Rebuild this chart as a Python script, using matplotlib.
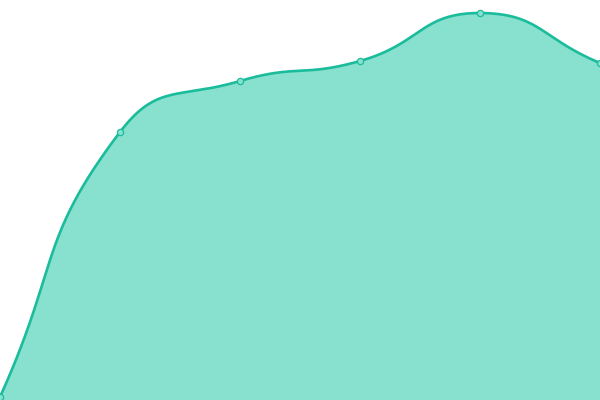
import numpy as np
import matplotlib
matplotlib.use("Agg")
import matplotlib.pyplot as plt

categories = ["A", "B", "C", "D", "E", "F"]
values = [3, 268, 319, 339, 387, 337]

line_color = "#1abc9c"
fill_color = "#88e0ce"

X_PX = 120.0  # pixels per category step (used only for smoothing geometry)
Y_PX = 1.0    # pixels per value unit


def smooth_curve(xs, ys, smooth=0.5, n=60):
    pts = np.column_stack([np.asarray(xs, float) * X_PX, np.asarray(ys, float) * Y_PX])
    m = len(pts)
    lo, hi = pts.min(axis=0), pts.max(axis=0)
    cps = []
    for i in range(m):
        p = pts[i]
        prev = pts[i - 1] if i > 0 else p
        nxt = pts[i + 1] if i < m - 1 else p
        v = (nxt - prev) * smooth
        d0 = np.linalg.norm(p - prev)
        d1 = np.linalg.norm(nxt - p)
        s = d0 + d1
        if s > 0:
            d0, d1 = d0 / s, d1 / s
        c0 = np.clip(p - v * d0, lo, hi)
        c1 = np.clip(p + v * d1, lo, hi)
        cps.append((c0, c1))
    out_x, out_y = [], []
    t = np.linspace(0, 1, n)
    for i in range(m - 1):
        p0 = pts[i]
        p1 = cps[i][1]
        p2 = cps[i + 1][0]
        p3 = pts[i + 1]
        b = ((1 - t) ** 3)[:, None] * p0 + (3 * (1 - t) ** 2 * t)[:, None] * p1 \
            + (3 * (1 - t) * t ** 2)[:, None] * p2 + (t ** 3)[:, None] * p3
        out_x.extend(b[:, 0])
        out_y.extend(b[:, 1])
    return np.array(out_x) / X_PX, np.array(out_y) / Y_PX


x = np.arange(len(categories))
sx, sy = smooth_curve(x, values, smooth=0.5)

fig = plt.figure(figsize=(6, 4), dpi=100)
ax = fig.add_axes([0, 0, 1, 1])
ax.fill_between(sx, sy, 0, color=fill_color, lw=0)
ax.plot(sx, sy, color=line_color, lw=1.9, solid_capstyle="round", zorder=3)
ax.plot(x, values, "o", ms=4.5, mfc=fill_color, mec=line_color, mew=0.9,
        zorder=4, clip_on=False)
ax.set_xlim(0, len(categories) - 1)
ax.set_ylim(0, 400)
ax.axis("off")
fig.savefig("out.png", dpi=100)
